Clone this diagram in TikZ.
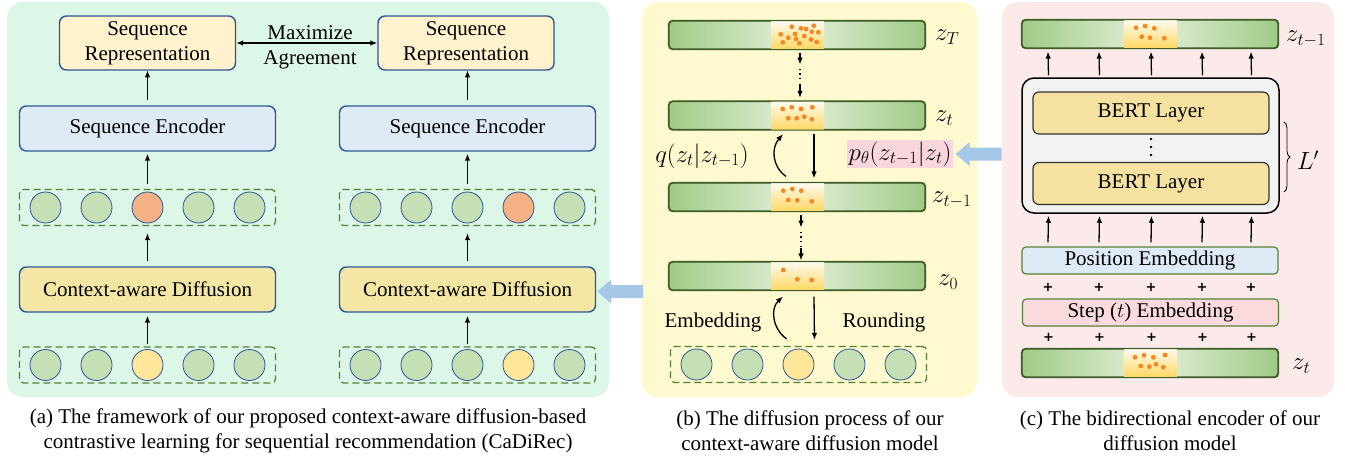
\documentclass[tikz,border=0pt]{standalone}
\usepackage{fontspec}
\setmainfont{Liberation Serif}
\newfontfamily\plusfont{DejaVu Sans}
\usetikzlibrary{arrows.meta,decorations.pathreplacing,calc}

\definecolor{pA}{RGB}{220,246,231}
\definecolor{pB}{RGB}{255,249,208}
\definecolor{pC}{RGB}{252,234,235}
\definecolor{bblue}{RGB}{47,85,151}
\definecolor{repY}{RGB}{255,242,204}
\definecolor{encB}{RGB}{222,235,247}
\definecolor{cadY}{RGB}{244,231,166}
\definecolor{cG}{RGB}{197,224,180}
\definecolor{cO}{RGB}{244,177,131}
\definecolor{cY}{RGB}{255,230,153}
\definecolor{dG}{RGB}{84,130,53}
\definecolor{barD}{RGB}{160,203,134}
\definecolor{barL}{RGB}{228,241,219}
\definecolor{barE}{RGB}{62,92,40}
\definecolor{segT}{RGB}{255,251,238}
\definecolor{segB}{RGB}{255,216,100}
\definecolor{dotO}{RGB}{246,135,35}
\definecolor{bigA}{RGB}{165,199,232}
\definecolor{pinkL}{RGB}{249,214,222}
\definecolor{bertY}{RGB}{246,226,160}
\definecolor{grayF}{RGB}{242,242,242}
\definecolor{stepP}{RGB}{250,218,221}

\newcommand\zbar[2]{%
  \node[bar] (#1) at (#2) {};
  \shade[top color=segT, bottom color=segB] ($(#1.north)+(-26,0.7)$) rectangle ($(#1.south)+(27,-0.7)$);
  \draw[barline] (#1.north west) rectangle (#1.south east);}
\newcommand\crow[5]{%
  \node[dbox] (#1) at (#2,#3) {};
  \foreach \i in {1,...,5}{%
    \ifnum\i=#4\relax\def\cc{#5}\else\def\cc{cG}\fi
    \node[circ, fill=\cc] (#1-\i) at ({#2+51*(\i-3)},#3) {};}}
\newcommand\bigarrow[1]{%
  \fill[bigA] (#1) -- ++(14,-12) -- ++(0,5.5) -- ++(32,0) -- ++(0,13) -- ++(-32,0) -- ++(0,5.5) -- cycle;}

\begin{document}
\begin{tikzpicture}[x=1pt,y=-1pt,
  txt/.style={font=\fontsize{21}{25}\selectfont},
  mtxt/.style={font=\fontsize{23}{26}\selectfont},
  rbox/.style={txt, draw=bblue, line width=1.4pt, rounded corners=7pt, inner sep=0pt, align=center},
  seqrep/.style={rbox, fill=repY, minimum width=176pt, minimum height=54pt},
  enc/.style={rbox, fill=encB, minimum width=256pt, minimum height=45pt},
  cad/.style={rbox, fill=cadY, minimum width=256pt, minimum height=45pt},
  circ/.style={circle, draw=bblue, line width=0.8pt, minimum size=31pt, inner sep=0pt},
  dbox/.style={draw=dG, line width=1.3pt, dash pattern=on 7pt off 4pt, rounded corners=4pt, minimum width=256pt, minimum height=36pt, inner sep=0pt},
  bar/.style={draw=barE, line width=1.1pt, rounded corners=4pt, minimum width=256pt, minimum height=28pt, inner sep=0pt, left color=barD, right color=barD, middle color=barL},
  barline/.style={draw=barE, line width=1.1pt, rounded corners=4pt},
  arr/.style={-{Latex[length=7pt,width=5.5pt]}, line width=1.3pt},
  dotl/.style={line width=1.2pt, dash pattern=on 1.2pt off 3.6pt},
  bert/.style={txt, draw=black!80, line width=1.2pt, fill=bertY, rounded corners=6pt, minimum width=236pt, minimum height=42pt, inner sep=0pt},
  emb/.style={txt, draw=dG, line width=1.2pt, rounded corners=4pt, minimum width=256pt, minimum height=27pt, inner sep=0pt},
  plus/.style={font=\plusfont\bfseries\fontsize{13}{13}\selectfont, inner sep=0pt},
  dot/.style={fill=dotO}]

\useasboundingbox (0,0) rectangle (1345,463);
\fill[white] (0,0) rectangle (1345,463);

% panels
\fill[pA, rounded corners=16pt] (7,2) rectangle (609,397);
\fill[pB, rounded corners=16pt] (642,2) rectangle (977,397);
\fill[pC, rounded corners=16pt] (1002,2) rectangle (1334,397);

% ---------- panel A ----------
\node[seqrep] (repL) at (147.5,43) {Sequence\\Representation};
\node[seqrep] (repR) at (466,43) {Sequence\\Representation};
\draw[{Latex[length=7pt,width=5.5pt]}-{Latex[length=7pt,width=5.5pt]}, line width=1.3pt] (repL.east) -- (repR.west);
\node[txt, align=center, inner sep=0pt] (maxag) at (310,47) {Maximize\\Agreement};

\node[enc] (encL) at (147.5,128.5) {Sequence Encoder};
\node[enc] (encR) at (467.5,128.5) {Sequence Encoder};

\crow{rowLt}{147.5}{207.5}{3}{cO}
\crow{rowRt}{467.5}{207.5}{4}{cO}

\node[cad] (cadL) at (147.5,289.5) {Context-aware Diffusion};
\node[cad] (cadR) at (467.5,289.5) {Context-aware Diffusion};

\crow{rowLb}{147.5}{365}{3}{cY}
\crow{rowRb}{467.5}{365}{4}{cY}

\foreach \s in {L,R}{
  \draw[arr] ($(enc\s.north)+(0,-5)$) -- ($(enc\s.north)+(0,-35)$);
  \draw[arr] ($(row\s t.north)+(0,-5)$) -- ($(enc\s.south)+(0,2)$);
  \draw[arr] ($(cad\s.north)+(0,-5)$) -- ($(row\s t.south)+(0,7)$);
  \draw[arr] ($(row\s b.north)+(0,-2)$) -- ($(cad\s.south)+(0,3)$);
}

% ---------- panel B ----------
\zbar{zT}{797,35}
\zbar{zt}{797,115.5}
\zbar{ztm}{797,197}
\zbar{zz}{797,276}

\foreach \p in {(791.7,26.7),(801,28.3),(813.7,25.7),(780.7,34.3),(795,34),(804.3,36),(811.7,31.7),(818.3,32.3),(788.3,37.7),(796,39),(811,39.5),(816.7,42),(782.7,42.3),(799.3,43.3),(806,29)}
  \fill[dot] \p circle (2.4pt);
\foreach \p in {(782.7,109),(791.7,107.3),(801,109),(812.3,107.3),(788.3,118.3),(796.7,118.3),(804.3,116.7),(811.7,119.3)}
  \fill[dot] \p circle (2.4pt);
\foreach \p in {(783.3,190.7),(792.3,189),(801.3,190.7),(788.3,200),(797.3,200.3),(811.7,201.3)}
  \fill[dot] \p circle (2.4pt);
\foreach \p in {(783.3,270),(797.3,279.3),(811.7,280)}
  \fill[dot] \p circle (2.4pt);

\node[mtxt, anchor=west, inner sep=0pt] (lzT) at (935,37) {$z_T$};
\node[mtxt, anchor=west, inner sep=0pt] (lzt) at (935,118) {$z_t$};
\node[mtxt, anchor=west, inner sep=0pt] (lztm) at (932,200) {$z_{t-1}$};
\node[mtxt, anchor=west, inner sep=0pt] (lz0) at (938,282) {$z_0$};

\draw[arr] ($(zT.south)+(3,3)$) -- ($(zT.south)+(3,15)$);
\draw[dotl] ($(zT.south)+(3,19)$) -- ($(zt.north)+(3,-18)$);
\draw[arr] ($(zt.north)+(3,-17)$) -- ($(zt.north)+(3,-3)$);
\draw[arr] ($(ztm.south)+(4,3)$) -- ($(ztm.south)+(4,16)$);
\draw[dotl] ($(ztm.south)+(4,20)$) -- ($(zz.north)+(4,-14)$);
\draw[arr] ($(zz.north)+(4,-13)$) -- ($(zz.north)+(4,-1)$);

\draw[arr] ($(ztm.north)+(-11,-6)$) .. controls ($(ztm.north)+(-25,-16)$) and ($(zt.south)+(-26,18)$) .. ($(zt.south)+(-14,4)$);
\draw[arr] ($(zt.south)+(17,4)$) -- ($(ztm.north)+(17,-4)$);
\node[mtxt, inner sep=0pt] (qlab) at (702,156) {$q(z_t|z_{t-1})$};
\node[mtxt, fill=pinkL, inner sep=2pt] (plab) at (900,154) {$p_\theta(z_{t-1}|z_t)$};

\crow{rowB}{798.5}{364.5}{3}{cY}
\draw[arr] ($(rowB.north)+(-12,-7)$) .. controls ($(rowB.north)+(-26,-17)$) and ($(zz.south)+(-27,18)$) .. ($(zz.south)+(-14,6)$);
\draw[arr] ($(zz.south)+(17,6)$) -- ($(rowB.north)+(16,-6)$);
\node[txt, inner sep=0pt] (embl) at (713,322) {Embedding};
\node[txt, inner sep=0pt] (rndl) at (884,322) {Rounding};

% big arrows
\coordinate (tipA) at ($(cadR.east)+(1,2)$);
\bigarrow{tipA}
\coordinate (tipB) at ($(plab.east)+(2,0)$);
\bigarrow{tipB}

% ---------- panel C ----------
\zbar{zc1}{1150,34}
\foreach \p in {(1136,27.7),(1145,26),(1154.3,28.3),(1141.7,36.7),(1150,37.7),(1164.3,38.3)}
  \fill[dot] \p circle (2.4pt);
\node[mtxt, anchor=west, inner sep=0pt] (lzc1) at (1286,39) {$z_{t-1}$};

\node[draw=black, line width=1.5pt, fill=grayF, rounded corners=12pt, minimum width=257pt, minimum height=135pt, inner sep=0pt] (outer) at (1150.5,145.5) {};
\node[bert] (bert1) at (1151,113) {BERT Layer};
\node[bert] (bert2) at (1151,183.5) {BERT Layer};
\foreach \yy in {139,147,155} \fill (1151,\yy) circle (1.3pt);
\draw[decorate, decoration={brace, amplitude=6pt}, line width=0.8pt] (1284,122) -- (1284,192);
\node[mtxt, inner sep=0pt] (Lp) at (1308,160) {$L'$};

\node[emb, fill=encB] (posE) at (1150,260.5) {Position Embedding};
\node[emb, fill=stepP] (stepE) at (1150.5,312.5) {Step ($t$) Embedding};
\zbar{zc2}{1150,363}
\foreach \p in {(1135,357.3),(1144,355.3),(1153.3,357.3),(1165,355),(1140.7,366),(1149.3,366.7),(1156,364.3),(1163.3,367.3)}
  \fill[dot] \p circle (2.4pt);
\node[mtxt, anchor=west, inner sep=0pt] (lzc2) at (1292,366) {$z_t$};

\foreach \dx [count=\k] in {-102,-51,1,52,101}{
  \draw[arr] ($(outer.north)+(\dx,-2)$) -- ($(zc1.south)+(\dx,3)$);
  \draw[arr] ($(posE.north)+(\dx,-4)$) -- ($(outer.south)+(\dx,2)$);
  \node[plus] (pa\k) at ($(posE.south)+(\dx,13)$) {+};
  \node[plus] (pb\k) at ($(stepE.south)+(\dx,11)$) {+};
}

% captions
\node[txt, align=center, inner sep=0pt] (capA) at (308,431) {(a) The framework of our proposed context-aware diffusion-based\\contrastive learning for sequential recommendation (CaDiRec)};
\node[txt, align=center, inner sep=0pt] (capB) at (810,431) {(b) The diffusion process of our\\context-aware diffusion model};
\node[txt, align=center, inner sep=0pt] (capC) at (1170,431) {(c) The bidirectional encoder of our\\diffusion model};
\end{tikzpicture}
\end{document}
